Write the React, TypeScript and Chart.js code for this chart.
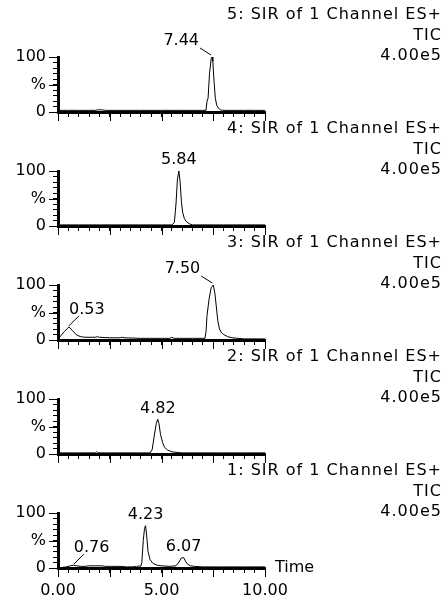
import React, { useEffect, useRef } from 'react';
import { Chart, registerables } from 'chart.js';

Chart.register(...registerables);

const FONT = '"DejaVu Sans", sans-serif';

// ---- data (time in minutes, intensity in %) ----
const TITLES = [
  '5: SIR of 1 Channel ES+',
  '4: SIR of 1 Channel ES+',
  '3: SIR of 1 Channel ES+',
  '2: SIR of 1 Channel ES+',
  '1: SIR of 1 Channel ES+',
];
const TRACE_NAME = 'TIC';
const INTENSITY_SCALE = '4.00e5';
const X_AXIS_TITLE = 'Time';
const X_TICK_LABELS: Record<string, string> = { '0': '0.00', '5': '5.00', '10': '10.00' };
const Y_TICK_LABELS: Record<string, string> = { '0': '0', '50': '%', '100': '100' };

const TIME_5 = [0, 0.5, 1.0, 1.5, 1.8, 1.9, 2.1, 2.3, 3, 4, 5, 6, 7.0, 7.15, 7.2, 7.25, 7.32, 7.4, 7.44, 7.48, 7.54, 7.6, 7.67, 7.75, 7.85, 7.95, 8.5, 9, 9.5, 10];
const VALUE_5 = [3, 3, 3, 3, 3, 4, 4, 3, 3, 3, 3, 3, 3, 3, 20, 25, 70, 97, 100, 92, 55, 25, 12, 7, 4, 3, 3, 3, 3, 3];

const TIME_4 = [0, 1, 2, 3, 4, 5, 5.5, 5.62, 5.7, 5.77, 5.84, 5.9, 5.96, 6.02, 6.1, 6.2, 6.35, 6.5, 7, 8, 9, 10];
const VALUE_4 = [2, 2, 2, 2, 2, 2, 2, 6, 40, 85, 100, 80, 45, 25, 14, 8, 4, 2, 2, 2, 2, 2];

const TIME_3 = [0, 0.1, 0.3, 0.53, 0.7, 0.9, 1.1, 1.3, 1.6, 1.8, 1.9, 2.0, 2.5, 3.0, 3.1, 3.2, 4.0, 5.0, 5.4, 5.5, 5.6, 6.5, 7.0, 7.1, 7.15, 7.2, 7.3, 7.4, 7.5, 7.58, 7.65, 7.72, 7.8, 7.9, 8.0, 8.2, 8.4, 8.7, 9, 10];
const VALUE_3 = [2, 6, 15, 24, 17, 9, 6, 5, 5, 5, 6, 5, 4, 4, 5, 4, 3, 3, 3, 5, 3, 3, 3, 3, 15, 45, 75, 95, 100, 85, 60, 35, 20, 13, 10, 6, 4, 3, 2, 2];

const TIME_2 = [0, 1, 1.8, 1.86, 1.92, 2.5, 3, 4, 4.45, 4.55, 4.65, 4.75, 4.82, 4.88, 4.95, 5.05, 5.15, 5.3, 5.5, 5.7, 6, 7, 8, 9, 10];
const VALUE_2 = [2, 2, 2, 4, 2, 2, 2, 2, 2, 8, 33, 56, 63, 55, 36, 21, 12, 7, 4, 3, 2, 2, 2, 2, 2];

const TIME_1 = [0, 0.2, 0.4, 0.6, 0.76, 0.9, 1.1, 1.3, 1.5, 1.8, 2.1, 2.3, 2.6, 3.0, 3.3, 3.6, 3.7, 3.8, 3.9, 4.0, 4.05, 4.12, 4.18, 4.23, 4.28, 4.35, 4.45, 4.6, 4.8, 5.0, 5.4, 5.7, 5.85, 5.95, 6.07, 6.15, 6.25, 6.4, 6.6, 7, 8, 9, 10];
const VALUE_1 = [0, 1, 2, 4, 5, 4, 3, 3, 4, 4, 4, 3, 3, 3, 2, 2, 3, 2, 4, 3, 10, 50, 72, 77, 60, 30, 15, 8, 5, 4, 3, 4, 11, 18, 19, 13, 7, 4, 3, 2, 2, 2, 2];

const PEAK_TIMES_5 = [7.44];
const PEAK_TIMES_4 = [5.84];
const PEAK_TIMES_3 = [0.53, 7.5];
const PEAK_TIMES_2 = [4.82];
const PEAK_TIMES_1 = [0.76, 4.23, 6.07];

// label placement style per peak (layout only)
const PEAK_STYLE_5 = ['left'];
const PEAK_STYLE_4 = ['above'];
const PEAK_STYLE_3 = ['right', 'left'];
const PEAK_STYLE_2 = ['above'];
const PEAK_STYLE_1 = ['right', 'above', 'above'];

const PANELS = [
  { title: TITLES[0], time: TIME_5, value: VALUE_5, peaks: PEAK_TIMES_5, styles: PEAK_STYLE_5 },
  { title: TITLES[1], time: TIME_4, value: VALUE_4, peaks: PEAK_TIMES_4, styles: PEAK_STYLE_4 },
  { title: TITLES[2], time: TIME_3, value: VALUE_3, peaks: PEAK_TIMES_3, styles: PEAK_STYLE_3 },
  { title: TITLES[3], time: TIME_2, value: VALUE_2, peaks: PEAK_TIMES_2, styles: PEAK_STYLE_2 },
  { title: TITLES[4], time: TIME_1, value: VALUE_1, peaks: PEAK_TIMES_1, styles: PEAK_STYLE_1 },
];

const PANEL_STEP = 114;
const PANEL_H = 130;
const LAST_H = 146;

function Panel({ index }: { index: number }) {
  const ref = useRef<HTMLCanvasElement | null>(null);
  const panel = PANELS[index];
  const isLast = index === PANELS.length - 1;
  const h = isLast ? LAST_H : PANEL_H;

  useEffect(() => {
    const canvas = ref.current;
    if (!canvas) return;
    const data = panel.time.map((t, i) => ({ x: t, y: panel.value[i] }));

    const annot = {
      id: 'annot' + index,
      afterDraw(chart: any) {
        const ctx = chart.ctx;
        const xs = chart.scales.x;
        const ys = chart.scales.y;
        const y0 = ys.getPixelForValue(0);
        const xl = xs.getPixelForValue(0);
        ctx.save();
        ctx.strokeStyle = '#000';
        ctx.fillStyle = '#000';
        ctx.lineWidth = 1;
        // longer major ticks
        ctx.beginPath();
        for (const v of [0, 2.5, 5, 7.5, 10]) {
          const x = Math.round(xs.getPixelForValue(v)) + 0.5;
          ctx.moveTo(x, y0);
          ctx.lineTo(x, y0 + 9);
        }
        for (const v of [0, 50, 100]) {
          const y = Math.round(ys.getPixelForValue(v)) + 0.5;
          ctx.moveTo(xl - 9, y);
          ctx.lineTo(xl, y);
        }
        ctx.stroke();

        ctx.font = `16px ${FONT}`;
        // right-hand header
        ctx.textAlign = 'right';
        ctx.textBaseline = 'middle';
        (ctx as any).letterSpacing = '1px';
        ctx.fillText(panel.title, 442, 15);
        ctx.fillText(TRACE_NAME, 442, 36);
        ctx.fillText(INTENSITY_SCALE, 442, 56);
        (ctx as any).letterSpacing = '0px';

        // peak labels
        panel.peaks.forEach((t, k) => {
          const idx = panel.time.indexOf(t);
          const v = panel.value[idx];
          const px = xs.getPixelForValue(t);
          const py = ys.getPixelForValue(v);
          const style = panel.styles[k];
          const text = t.toFixed(2);
          ctx.beginPath();
          if (style === 'above') {
            ctx.textAlign = 'center';
            ctx.textBaseline = 'middle';
            ctx.fillText(text, px, py - 11);
          } else if (style === 'left') {
            ctx.textAlign = 'right';
            ctx.textBaseline = 'middle';
            ctx.fillText(text, px - 13, py - 16);
            ctx.moveTo(px - 12, py - 9);
            ctx.lineTo(px - 1, py - 2);
            ctx.stroke();
          } else {
            ctx.textAlign = 'left';
            ctx.textBaseline = 'middle';
            ctx.fillText(text, px, py - 17);
            ctx.moveTo(px, py - 1);
            ctx.lineTo(px + 10, py - 11);
            ctx.stroke();
          }
        });

        if (isLast) {
          ctx.textAlign = 'left';
          ctx.textBaseline = 'middle';
          ctx.fillText(X_AXIS_TITLE, xs.right + 10, y0);
        }
        ctx.restore();
      },
    };

    const chart = new Chart(canvas, {
      type: 'line',
      data: {
        datasets: [
          {
            data,
            borderColor: '#000',
            borderWidth: 1,
            pointRadius: 0,
            tension: 0,
            fill: false,
          },
        ],
      },
      options: {
        animation: false,
        responsive: false,
        events: [],
        layout: { padding: { left: 0, right: 181, top: 57, bottom: 0 } },
        plugins: { legend: { display: false }, tooltip: { enabled: false }, title: { display: false } },
        scales: {
          x: {
            type: 'linear',
            min: 0,
            max: 10,
            afterFit: (s: any) => {
              s.height = isLast ? 34 : 18;
              s.paddingLeft = 0;
              s.paddingRight = 0;
            },
            ticks: {
              stepSize: 0.5,
              autoSkip: false,
              maxRotation: 0,
              minRotation: 0,
              padding: 8,
              color: '#000',
              font: { family: FONT, size: 16 },
              callback: (v: any) => (isLast ? X_TICK_LABELS[String(v)] ?? '' : ''),
            },
            grid: { drawOnChartArea: false, drawTicks: true, tickLength: 5, color: '#000', lineWidth: 1 },
            border: { display: true, color: '#000', width: 3 },
          },
          y: {
            type: 'linear',
            min: 0,
            max: 100,
            afterFit: (s: any) => {
              s.width = 58;
              s.paddingTop = 0;
              s.paddingBottom = 0;
            },
            ticks: {
              stepSize: 10,
              autoSkip: false,
              padding: 7,
              color: '#000',
              font: { family: FONT, size: 16 },
              callback: (v: any) => Y_TICK_LABELS[String(v)] ?? '',
            },
            grid: { drawOnChartArea: false, drawTicks: true, tickLength: 5, color: '#000', lineWidth: 1 },
            border: { display: true, color: '#000', width: 3 },
          },
        },
      },
      plugins: [annot],
    } as any);
    return () => chart.destroy();
  }, [index]);

  return (
    <canvas
      ref={ref}
      width={446}
      height={h}
      style={{ position: 'absolute', left: 0, top: index * PANEL_STEP, width: 446, height: h }}
    />
  );
}

export default function App() {
  return (
    <div style={{ position: 'absolute', left: 0, top: 0, width: 446, height: 602, background: '#fff', overflow: 'hidden' }}>
      {PANELS.map((_, i) => (
        <Panel key={i} index={i} />
      ))}
    </div>
  );
}
